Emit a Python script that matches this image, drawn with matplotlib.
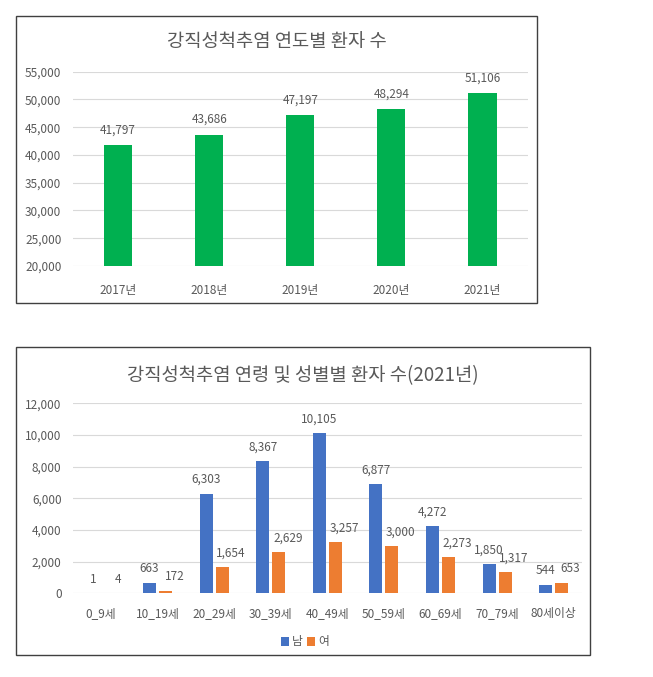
import matplotlib
matplotlib.use("Agg")
import matplotlib.pyplot as plt
from matplotlib.patches import Rectangle
from matplotlib.ticker import FuncFormatter

plt.rcParams['font.family'] = ['Noto Sans CJK KR', 'DejaVu Sans']

# ---- data ----
years = ['2017년', '2018년', '2019년', '2020년', '2021년']
patients = [41797, 43686, 47197, 48294, 51106]

age_groups = ['0_9세', '10_19세', '20_29세', '30_39세', '40_49세',
              '50_59세', '60_69세', '70_79세', '80세이상']
male = [1, 663, 6303, 8367, 10105, 6877, 4272, 1850, 544]
female = [4, 172, 1654, 2629, 3257, 3000, 2273, 1317, 653]

title_top = '강직성척추염 연도별 환자 수'
title_bottom = '강직성척추염 연령 및 성별별 환자 수(2021년)'

W, H = 653, 677
TXT = '#595959'
GRID = '#D9D9D9'
FS = 8.5

fig = plt.figure(figsize=(W / 100, H / 100), dpi=100)
fig.patch.set_facecolor('white')

def ax_px(l, r, t, b):
    return fig.add_axes([l / W, (H - b) / H, (r - l) / W, (b - t) / H])

def box_px(l, r, t, b):
    fig.patches.append(Rectangle((l / W, (H - b) / H), (r - l) / W, (b - t) / H,
                                 transform=fig.transFigure, fill=False,
                                 edgecolor='#404040', lw=1.0, zorder=0))

fmt = FuncFormatter(lambda v, p: f'{int(v):,}')

def style(ax, xpad):
    for s in ax.spines.values():
        s.set_visible(False)
    ax.yaxis.grid(True, color=GRID, lw=0.8)
    ax.set_axisbelow(True)
    ax.tick_params(axis='both', length=0, colors=TXT, labelsize=FS)
    ax.tick_params(axis='y', pad=8)
    ax.tick_params(axis='x', pad=xpad)
    ax.yaxis.set_major_formatter(fmt)

# ---- top chart ----
box_px(16, 537, 16, 303)
ax1 = ax_px(72.5, 528, 71.7, 266)
x1 = range(len(years))
ax1.bar(x1, patients, width=0.31, color='#00B050', zorder=2)
ax1.set_xlim(-0.5, len(years) - 0.5)
ax1.set_ylim(20000, 55000)
ax1.set_yticks(range(20000, 55001, 5000))
ax1.set_xticks(list(x1))
ax1.set_xticklabels(years)
style(ax1, 13)
for xi, v in zip(x1, patients):
    ax1.annotate(f'{v:,}', (xi, v), xytext=(0, 15), textcoords='offset pixels',
                 ha='center', va='center', fontsize=FS, color=TXT)
fig.text(276.5 / W, (H - 41) / H, title_top, ha='center', va='center',
         fontsize=13.5, color=TXT)

# ---- bottom chart ----
box_px(16, 590, 347, 655)
ax2 = ax_px(72.7, 582, 403.3, 593.3)
x2 = list(range(len(age_groups)))
off = 0.141
bw = 0.23
ax2.bar([x - off for x in x2], male, width=bw, color='#4472C4', zorder=2, label='남')
ax2.bar([x + off for x in x2], female, width=bw, color='#ED7D31', zorder=2, label='여')
ax2.set_xlim(-0.5, len(age_groups) - 0.5)
ax2.set_ylim(0, 12000)
ax2.set_yticks(range(0, 12001, 2000))
ax2.set_xticks(x2)
ax2.set_xticklabels(age_groups)
style(ax2, 10)
for xi, m, f in zip(x2, male, female):
    ax2.annotate(f'{m:,}', (xi - off, m), xytext=(0, 14), textcoords='offset pixels',
                 ha='center', va='center', fontsize=FS, color=TXT)
    ax2.annotate(f'{f:,}', (xi + off, f), xytext=(9, 14), textcoords='offset pixels',
                 ha='center', va='center', fontsize=FS, color=TXT)
fig.text(303 / W, (H - 376) / H, title_bottom, ha='center', va='center',
         fontsize=13.5, color=TXT)
ax2.legend(loc='center', bbox_to_anchor=(305 / W, (H - 642) / H),
           bbox_transform=fig.transFigure, ncol=2, frameon=False,
           fontsize=FS, handlelength=0.7, handleheight=0.7,
           handletextpad=0.3, columnspacing=0.3, labelcolor=TXT)

fig.savefig('out.png', dpi=100, facecolor='white')
